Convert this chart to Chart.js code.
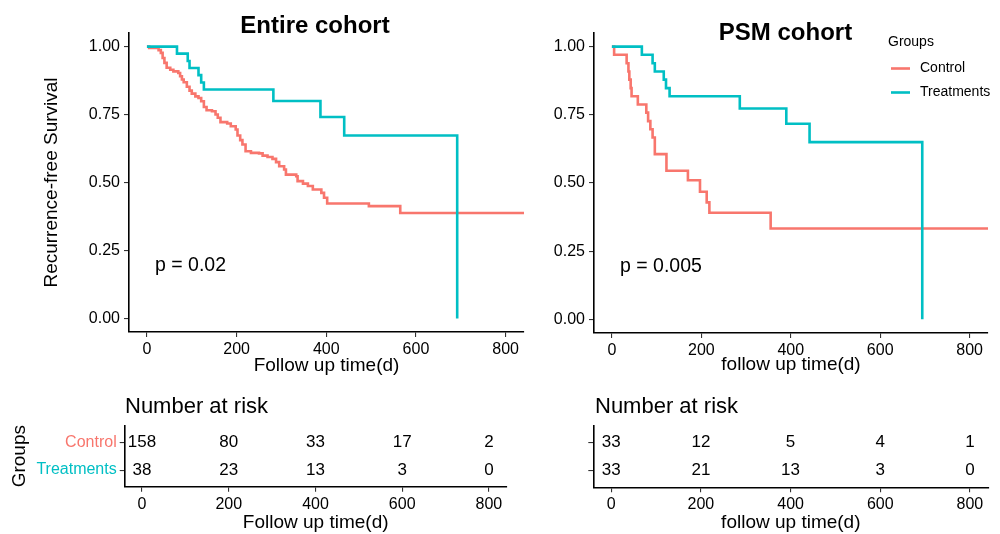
<!DOCTYPE html>
<html>
<head>
<meta charset="utf-8">
<title>Recurrence-free survival</title>
<script src="https://cdn.jsdelivr.net/npm/chart.js@4.4.1/dist/chart.umd.min.js"></script>
<style>
  html, body { margin: 0; padding: 0; background: #fff; }
  #wrap { position: relative; width: 1000px; height: 534px; overflow: hidden; }
  #wrap canvas { position: absolute; left: 0; top: 0; }
</style>
</head>
<body>
<div id="wrap">
  <canvas id="kmEntire" width="1000" height="534"></canvas>
  <canvas id="kmPsm" width="1000" height="534"></canvas>
  <canvas id="riskEntire" width="1000" height="534"></canvas>
  <canvas id="riskPsm" width="1000" height="534"></canvas>
</div>
<script>
const groups = ['Control', 'Treatments'];
const timeTicks = [0, 200, 400, 600, 800];
const survTicks = [0, 0.25, 0.5, 0.75, 1];

// Entire cohort - KM steps (day, survival after that day)
const entireControlDays = [0, 5, 26, 31, 35, 39, 44, 52, 59, 70, 74, 78, 82, 89, 95, 100, 108, 115, 121, 127,
  133, 145, 153, 158, 164, 179, 187, 198, 202, 208, 213, 220, 232, 250, 258, 269, 280, 288, 295, 306,
  310, 333, 336, 348, 359, 370, 389, 395, 402, 495, 565, 841];
const entireControlSurv = [1, 0.995, 0.987, 0.977, 0.958, 0.940, 0.922, 0.915, 0.909, 0.903, 0.891, 0.879, 0.869, 0.852, 0.838, 0.827, 0.817, 0.811, 0.799, 0.778,
  0.766, 0.762, 0.750, 0.738, 0.722, 0.717, 0.707, 0.695, 0.673, 0.656, 0.640, 0.615, 0.609, 0.607, 0.599, 0.594, 0.587, 0.575, 0.560, 0.548,
  0.529, 0.523, 0.505, 0.496, 0.487, 0.474, 0.462, 0.444, 0.423, 0.413, 0.388, 0.388];
const entireTreatDays = [0, 67, 91, 95, 115, 121, 127, 282, 387, 440, 692];
const entireTreatSurv = [1, 0.974, 0.947, 0.921, 0.895, 0.868, 0.842, 0.800, 0.741, 0.673, 0];

// PSM cohort
const psmControlDays = [0, 5, 33, 37, 39, 42, 44, 58, 77, 81, 86, 91, 96, 122, 170, 197, 212, 218, 355, 841];
const psmControlSurv = [1, 0.970, 0.939, 0.909, 0.879, 0.848, 0.818, 0.788, 0.758, 0.727, 0.697, 0.667, 0.606, 0.545, 0.510, 0.468, 0.429, 0.391, 0.333, 0.333];
const psmTreatDays = [0, 67, 91, 96, 116, 121, 129, 286, 390, 442, 694];
const psmTreatSurv = [1, 0.970, 0.939, 0.909, 0.879, 0.848, 0.818, 0.773, 0.717, 0.650, 0];

// number at risk at 0/200/400/600/800 days
const entireRiskControl = [158, 80, 33, 17, 2];
const entireRiskTreat = [38, 23, 13, 3, 0];
const psmRiskControl = [33, 12, 5, 4, 1];
const psmRiskTreat = [33, 21, 13, 3, 0];

const RED = '#F8766D';
const CYAN = '#00BFC4';
const FONT = '"Liberation Sans", Arial, Helvetica, sans-serif';
Chart.defaults.font.family = FONT;
Chart.defaults.color = '#000';

function steps(days, surv) {
  return days.map((d, i) => ({ x: d, y: surv[i] }));
}

function tickGrid() {
  return { display: true, drawOnChartArea: false, drawTicks: true, tickLength: 5, color: '#333', lineWidth: 1.1 };
}
function axisLine() {
  return { display: true, color: '#000', width: 1.6 };
}

function timeAxis(title, height, gap) {
  return {
    type: 'linear', min: -40, max: 841,
    afterBuildTicks: s => { s.ticks = timeTicks.map(v => ({ value: v })); },
    afterFit: s => { s.height = height; },
    ticks: { font: { size: 16 }, padding: 3, color: '#000', maxRotation: 0 },
    grid: tickGrid(),
    border: axisLine(),
    title: { display: true, text: title, font: { size: 19 }, color: '#000', padding: { top: 0, bottom: gap } }
  };
}

// free text (titles, p values, table heading)
const panelText = {
  id: 'panelText',
  afterDraw(chart, args, opts) {
    const ctx = chart.ctx;
    ctx.save();
    (opts.items || []).forEach(it => {
      ctx.font = it.font;
      ctx.fillStyle = '#000';
      ctx.textAlign = it.align || 'left';
      ctx.textBaseline = it.baseline || 'middle';
      ctx.fillText(it.text, it.x, it.y);
    });
    ctx.restore();
  }
};

// ggplot style legend at top right
const groupLegend = {
  id: 'groupLegend',
  afterDraw(chart, args, opts) {
    if (!opts.show) return;
    const ctx = chart.ctx;
    ctx.save();
    ctx.font = '14px ' + FONT;
    ctx.fillStyle = '#000';
    ctx.textAlign = 'left';
    ctx.textBaseline = 'middle';
    ctx.fillText('Groups', opts.x, opts.y);
    chart.data.datasets.forEach((ds, i) => {
      const y = opts.y + 26.5 + i * 24;
      ctx.strokeStyle = ds.borderColor;
      ctx.lineWidth = 2.6;
      ctx.beginPath();
      ctx.moveTo(opts.x + 3, y);
      ctx.lineTo(opts.x + 22, y);
      ctx.stroke();
      ctx.fillText(ds.label, opts.x + 32, y);
    });
    ctx.restore();
  }
};

// numbers at risk drawn at the scatter point positions
const riskNumbers = {
  id: 'riskNumbers',
  afterDatasetsDraw(chart) {
    const ctx = chart.ctx;
    ctx.save();
    ctx.font = '17px ' + FONT;
    ctx.fillStyle = '#000';
    ctx.textAlign = 'center';
    ctx.textBaseline = 'middle';
    chart.data.datasets.forEach((ds, i) => {
      chart.getDatasetMeta(i).data.forEach((pt, j) => {
        ctx.fillText(String(ds.data[j].n), pt.x, pt.y);
      });
    });
    ctx.restore();
  }
};

function kmChart(id, cfg) {
  const line = { stepped: 'before', pointRadius: 0, borderWidth: 2.6, fill: false, tension: 0 };
  return new Chart(document.getElementById(id), {
    type: 'line',
    data: {
      datasets: [
        Object.assign({ label: groups[0], data: cfg.control, borderColor: RED, order: 1 }, line),
        Object.assign({ label: groups[1], data: cfg.treat, borderColor: CYAN, order: 0 }, line)
      ]
    },
    options: {
      responsive: false, animation: false, devicePixelRatio: 1,
      layout: { padding: cfg.pad },
      plugins: {
        legend: { display: false }, tooltip: { enabled: false },
        panelText: { items: cfg.texts },
        groupLegend: cfg.legend || { show: false }
      },
      scales: {
        x: timeAxis(cfg.xTitle, cfg.xHeight, cfg.xGap),
        y: {
          type: 'linear', min: -0.05, max: 1.05,
          afterBuildTicks: s => { s.ticks = survTicks.map(v => ({ value: v })); },
          afterFit: s => { s.width = cfg.yWidth; },
          ticks: { font: { size: 16 }, padding: 4, color: '#000', callback: v => v.toFixed(2) },
          grid: tickGrid(),
          border: axisLine(),
          title: cfg.yTitle
            ? { display: true, text: cfg.yTitle, font: { size: 19 }, color: '#000', padding: { top: 1.3, bottom: 0 } }
            : { display: false }
        }
      }
    },
    plugins: [panelText, groupLegend]
  });
}

function riskChart(id, cfg) {
  const rows = [cfg.control, cfg.treat];
  return new Chart(document.getElementById(id), {
    type: 'scatter',
    data: {
      datasets: rows.map((counts, r) => ({
        label: groups[r],
        data: timeTicks.map((t, i) => ({ x: t, y: r + 1, n: counts[i] })),
        pointRadius: 0, showLine: false
      }))
    },
    options: {
      responsive: false, animation: false, devicePixelRatio: 1,
      layout: { padding: cfg.pad },
      plugins: {
        legend: { display: false }, tooltip: { enabled: false },
        panelText: { items: cfg.texts }
      },
      scales: {
        x: timeAxis(cfg.xTitle, cfg.xHeight, 0),
        y: {
          type: 'linear', min: 0.4, max: 2.6, reverse: true,
          afterBuildTicks: s => { s.ticks = [{ value: 1 }, { value: 2 }]; },
          afterFit: s => { s.width = cfg.yWidth; },
          ticks: {
            font: { size: 16 }, padding: 3,
            color: c => (c.tick && c.tick.value === 1 ? RED : CYAN),
            callback: v => (cfg.rowLabels ? groups[v - 1] : '')
          },
          grid: tickGrid(),
          border: axisLine(),
          title: cfg.yTitle
            ? { display: true, text: cfg.yTitle, font: { size: 19 }, color: '#000', padding: { top: 0, bottom: 0 } }
            : { display: false }
        }
      }
    },
    plugins: [panelText, riskNumbers]
  });
}

kmChart('kmEntire', {
  control: steps(entireControlDays, entireControlSurv),
  treat: steps(entireTreatDays, entireTreatSurv),
  pad: { left: 39, right: 476, top: 33, bottom: 142 },
  yWidth: 90, xHeight: 60, xGap: 14.6,
  xTitle: 'Follow up time(d)', yTitle: 'Recurrence-free Survival',
  texts: [
    { text: 'Entire cohort', x: 315, y: 33, font: 'bold 24px ' + FONT, align: 'center', baseline: 'alphabetic' },
    { text: 'p = 0.02', x: 155, y: 266, font: '19.5px ' + FONT }
  ]
});

kmChart('kmPsm', {
  control: steps(psmControlDays, psmControlSurv),
  treat: steps(psmTreatDays, psmTreatSurv),
  pad: { left: 534, right: 12, top: 33, bottom: 141 },
  yWidth: 60, xHeight: 60, xGap: 16.6,
  xTitle: 'follow up time(d)', yTitle: null,
  legend: { show: true, x: 888, y: 42 },
  texts: [
    { text: 'PSM cohort', x: 785.5, y: 40, font: 'bold 24px ' + FONT, align: 'center', baseline: 'alphabetic' },
    { text: 'p = 0.005', x: 620, y: 267, font: '19.5px ' + FONT }
  ]
});

riskChart('riskEntire', {
  control: entireRiskControl, treat: entireRiskTreat,
  pad: { left: 8.7, right: 493.3, top: 425.7, bottom: 0 },
  yWidth: 116, xHeight: 47.3,
  xTitle: 'Follow up time(d)', yTitle: 'Groups', rowLabels: true,
  texts: [{ text: 'Number at risk', x: 125, y: 412.5, font: '22px ' + FONT, baseline: 'alphabetic' }]
});

riskChart('riskPsm', {
  control: psmRiskControl, treat: psmRiskTreat,
  pad: { left: 533.3, right: 11.7, top: 426, bottom: 0 },
  yWidth: 60, xHeight: 46.7,
  xTitle: 'follow up time(d)', yTitle: null, rowLabels: false,
  texts: [{ text: 'Number at risk', x: 595, y: 413, font: '22px ' + FONT, baseline: 'alphabetic' }]
});
</script>
</body>
</html>
